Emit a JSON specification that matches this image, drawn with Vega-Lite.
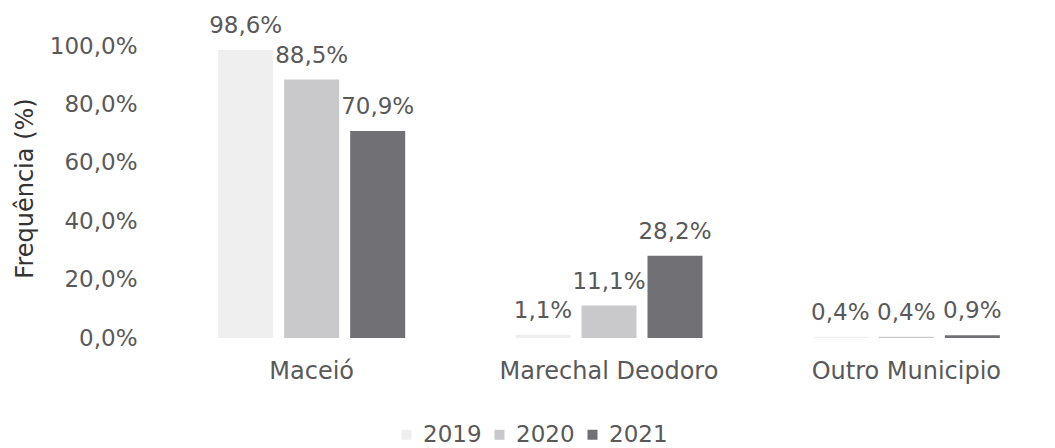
{
  "$schema": "https://vega.github.io/schema/vega-lite/v6.json",
  "width": 892,
  "height": 292,
  "autosize": {"type": "none"},
  "padding": {"left": 163, "top": 46, "right": 0, "bottom": 110},
  "background": "white",
  "config": {
    "locale": {"number": {"decimal": ",", "thousands": ".", "grouping": [3], "currency": ["", ""]}},
    "view": {"stroke": null},
    "font": "DejaVu Sans"
  },
  "data": {
    "values": [
      {"municipio": "Maceió", "ano": "2019", "freq": 0.986},
      {"municipio": "Maceió", "ano": "2020", "freq": 0.885},
      {"municipio": "Maceió", "ano": "2021", "freq": 0.709},
      {"municipio": "Marechal Deodoro", "ano": "2019", "freq": 0.011},
      {"municipio": "Marechal Deodoro", "ano": "2020", "freq": 0.111},
      {"municipio": "Marechal Deodoro", "ano": "2021", "freq": 0.282},
      {"municipio": "Outro Municipio", "ano": "2019", "freq": 0.004},
      {"municipio": "Outro Municipio", "ano": "2020", "freq": 0.004},
      {"municipio": "Outro Municipio", "ano": "2021", "freq": 0.009}
    ]
  },
  "encoding": {
    "x": {
      "field": "municipio", "type": "nominal",
      "sort": ["Maceió", "Marechal Deodoro", "Outro Municipio"],
      "scale": {"paddingInner": 0.334, "paddingOuter": 0.167},
      "axis": {"title": null, "labelAngle": 0, "labelFontSize": 24, "labelLimit": 500, "labelColor": "#595959", "labelBaseline": "alphabetic", "labelPadding": 40, "ticks": false, "tickSize": 0, "domain": false, "grid": false}
    },
    "xOffset": {
      "field": "ano", "type": "nominal",
      "scale": {"paddingInner": 0.1667, "paddingOuter": 0.0833}
    },
    "y": {
      "field": "freq", "type": "quantitative",
      "scale": {"domain": [0, 1]},
      "axis": {
        "format": ".1%", "values": [0, 0.2, 0.4, 0.6, 0.8, 1],
        "labelFontSize": 23, "labelColor": "#595959", "labelPadding": 26,
        "ticks": false, "tickSize": 0, "domain": false, "grid": false,
        "title": "Frequência (%)", "titleFontSize": 24, "titleFontWeight": "normal", "titleColor": "#333333",
        "titleX": -138, "titleY": 142, "titleAngle": -90, "titleAlign": "center", "titleBaseline": "middle"
      }
    }
  },
  "layer": [
    {
      "mark": {"type": "bar"},
      "encoding": {
        "color": {
          "field": "ano", "type": "nominal",
          "scale": {"domain": ["2019", "2020", "2021"], "range": ["#efefef", "#c9c9cc", "#707075"]},
          "legend": {
            "orient": "none", "legendX": 232, "legendY": 377, "direction": "horizontal", "columns": 3,
            "title": null, "symbolType": "square", "symbolSize": 100, "symbolStrokeWidth": 0,
            "labelFontSize": 23, "labelColor": "#595959", "columnPadding": 6, "labelOffset": 5, "padding": 0
          }
        }
      }
    },
    {
      "mark": {"type": "text", "dy": -17, "baseline": "alphabetic", "fontSize": 23, "fill": "#595959"},
      "encoding": {"text": {"field": "freq", "type": "quantitative", "format": ".1%"}}
    }
  ]
}
